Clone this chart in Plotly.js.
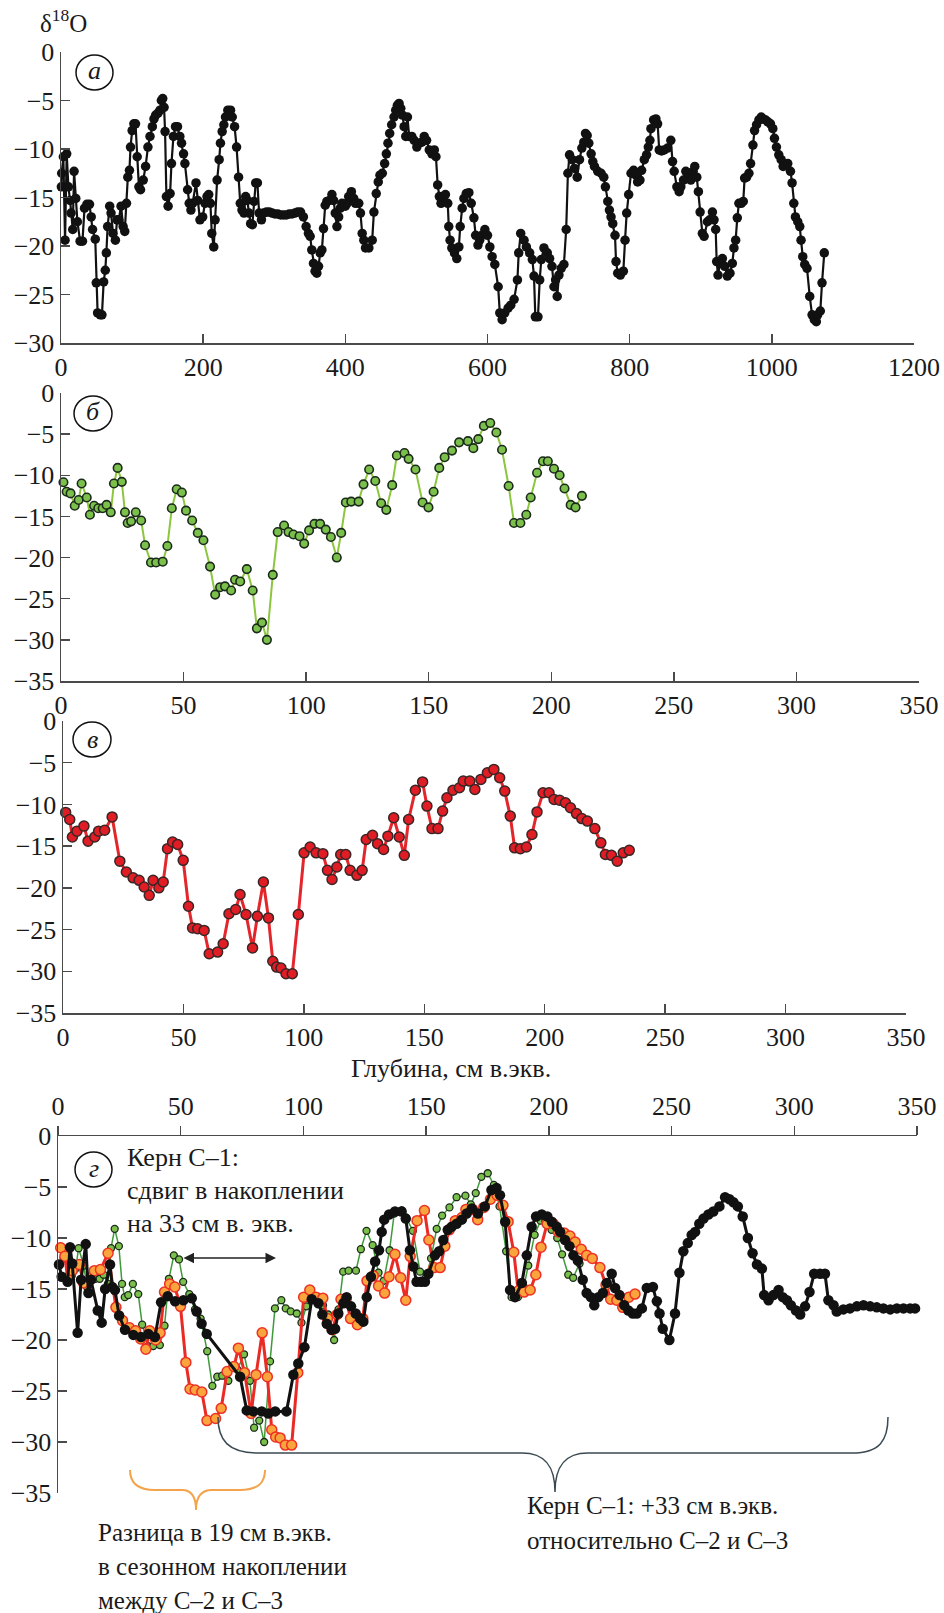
<!DOCTYPE html>
<html><head><meta charset="utf-8">
<script src="https://cdn.plot.ly/plotly-3.0.1.min.js"></script>
<style>html,body{margin:0;padding:0;background:#fff}</style>
</head><body><div id="chart" style="width:944px;height:1613px"></div>
<script>
// Panel а: C-1 core
const aX = [0.5,1,3.3,5.7,8,10.4,12.8,14.2,16.5,18.4,
20.8,23.1,26.9,30.2,33.1,36.4,40.1,42.5,44.4,48.2,
49.6,51.5,55.3,57.6,60,62.3,63.8,65.6,68.5,70.4,
73.2,76.5,78.9,81.2,84.5,87.4,89.7,92.1,94,96.3,
97.8,100.1,102.5,104.8,107.2,109.6,111.9,115.7,119,122.3,
125.2,128.5,130.8,133.2,136.5,139.3,141.2,143.1,145,146.4,
148.3,150.7,153.5,155.4,158.2,161.1,163.9,167.2,169.6,172.4,
174.3,178.1,180.4,182.8,185.1,189.9,192.2,195.5,199.3,202.6,
205.4,207.8,210.2,212.1,214.9,216.8,219.6,222.5,224.3,226.7,
229.1,231.4,234.7,238.5,240.9,244.2,247,249.8,252.2,254.6,
257.4,259.8,262.1,264.5,266.8,269.2,271.6,273.9,276.3,278.7,
282,285,289,293,297,301,305,309,313,317,
321,325,329,333,337,341,
344.8,348.1,350.5,352.8,355.2,357.5,359.9,362.3,364.6,367,
369.3,371.7,374,377.8,381.1,383.5,385.8,388.2,390.6,392.9,
395.3,400,402.4,404.7,408.5,411.8,414.2,418.9,421.3,423.7,
426,428.4,433.1,437.8,440.2,443.5,446.3,448.7,452,455.3,
457.7,460,462.4,465.2,468.5,470.9,473.2,475.6,478,480.3,
482.7,485,487.4,489.8,493.5,496.8,500.6,503.9,507.7,511,
514.3,518.1,521.8,525.2,527.5,529.9,532.3,534.6,537.9,540.8,
544.1,545.5,547.4,549.8,553.5,556.8,559.7,561.6,564.4,566.8,
570.1,573.8,577.1,580.9,583.3,586.6,589,592,596.3,600,
603.3,606.5,610.3,615,617.3,620.6,624.3,629,632.7,637.4,
642.1,643.9,646.7,651.4,654.7,659.3,663.1,665.4,667.3,671,
673.4,675.7,679.4,684.1,687.4,690.7,693.5,695.8,698.1,700.5,
703.7,707.5,710.7,713.1,715.4,719.2,722.4,726.2,729.4,732.7,
735.5,737.9,740.2,742.5,745.8,748.1,750.5,755.1,759.8,763.6,
765.9,769.2,771.5,773.8,776.2,779.4,780.8,783.2,786.9,791.1,
793.5,795.8,798.6,801.9,805.6,808.9,811.2,814.5,816.8,820.6,
823.8,826.2,828.5,829.9,833.7,836.9,839.3,841.6,844.9,848.6,
853.3,857.9,860.3,862.6,866.4,869.6,872,875.7,879,882.7,
886,889.3,891.6,894.4,896.7,899.1,902.3,904.7,909.4,912.6,
916.4,918.7,921,922.4,924.3,927.1,930.4,933.7,937.4,941.1,
944.4,946.7,949.1,951.4,953.7,957,959.8,961.7,964.5,967.8,
970.1,973.4,975.7,978.5,981.8,985.1,987.9,991.1,994.4,998.1,
1001.4,1003.7,1006.5,1009.8,1013.1,1015.9,1019.2,1022.4,1026.2,1028.5,
1030.9,1033.2,1036.5,1039.3,1041.1,1043.5,1046.3,1049.5,1053.3,1056.6,
1059.8,1062.6,1064.5,1068.2,1070.6,1073.8];
const aY = [-13.9,-12.5,-10.8,-19.4,-10.5,-13.9,-15.3,-16.6,-18.3,-12.3,
-15.1,-17.5,-19.5,-19.5,-16.1,-15.7,-15.7,-17.0,-18.3,-19.3,
-23.8,-26.9,-27.1,-27.1,-23.7,-22.5,-20.7,-18.0,-15.9,-16.6,
-18.7,-19.4,-17.3,-17.3,-15.9,-18.0,-18.5,-15.6,-12.9,-12.2,
-9.8,-8.1,-7.4,-7.4,-10.8,-13.9,-14.2,-13.2,-11.8,-9.8,
-8.7,-7.7,-6.9,-6.5,-6.3,-6.0,-5.0,-4.8,-5.7,-8.2,
-14.9,-15.9,-14.6,-11.5,-8.7,-7.7,-7.7,-8.7,-9.4,-10.5,
-11.5,-14.2,-15.6,-16.3,-15.6,-13.5,-15.3,-17.3,-17.0,-15.6,
-14.9,-14.7,-15.6,-18.7,-20.1,-17.3,-13.2,-11.1,-9.4,-8.2,
-7.5,-6.7,-6.0,-6.0,-6.7,-7.7,-9.8,-12.9,-15.6,-16.3,
-16.6,-14.9,-15.3,-16.6,-17.7,-17.8,-15.4,-13.5,-13.5,-16.6,
-17.3,-16.6,-16.5,-16.5,-16.6,-16.7,-16.7,-16.8,-16.8,-16.8,
-16.7,-16.7,-16.6,-16.5,-16.5,-17.0,
-18.0,-18.7,-19.0,-20.4,-21.8,-22.6,-22.8,-22.1,-20.7,-20.4,
-18.2,-15.8,-15.4,-15.3,-14.7,-15.3,-16.6,-18.0,-17.0,-16.1,
-15.6,-15.9,-15.6,-14.9,-14.4,-15.1,-15.6,-15.6,-16.6,-18.7,
-19.4,-20.2,-20.2,-19.4,-16.5,-14.6,-13.4,-12.7,-12.5,-11.5,
-10.5,-9.4,-8.4,-7.5,-6.7,-6.0,-5.5,-5.3,-5.8,-6.5,
-7.7,-8.7,-6.7,-8.7,-8.7,-9.1,-9.8,-9.4,-9.3,-8.7,
-9.1,-10.1,-10.5,-10.1,-10.8,-13.7,-14.9,-15.6,-14.9,-14.7,
-15.6,-18.0,-19.4,-20.2,-20.7,-21.3,-20.1,-18.0,-16.1,-15.1,
-14.6,-14.5,-15.6,-17.1,-18.9,-19.9,-19.4,-18.9,-18.3,-18.9,
-20.1,-21.1,-21.9,-24.2,-26.9,-27.6,-26.9,-26.4,-26.1,-25.5,
-23.5,-20.7,-18.7,-19.4,-20.1,-20.7,-21.4,-23.1,-27.3,-27.3,
-23.5,-21.4,-20.2,-20.7,-21.3,-22.1,-24.2,-23.5,-25.2,-23.0,
-22.3,-21.9,-18.3,-12.5,-10.6,-11.1,-12.0,-12.9,-11.1,-9.9,
-9.3,-8.4,-8.6,-9.4,-10.5,-11.3,-11.8,-12.3,-12.5,-12.9,
-13.9,-15.4,-16.3,-17.0,-17.7,-18.9,-21.6,-22.8,-23.0,-22.6,
-19.4,-16.6,-14.7,-12.5,-12.2,-12.7,-13.4,-13.2,-12.2,-11.1,
-10.6,-9.8,-9.1,-7.9,-7.0,-6.9,-7.4,-10.1,-10.2,-10.1,
-9.9,-9.1,-11.3,-12.3,-13.9,-14.4,-13.9,-13.2,-12.3,-12.5,
-13.2,-12.3,-11.8,-12.9,-14.4,-16.5,-18.7,-19.0,-17.5,-17.3,
-16.5,-17.3,-18.3,-21.6,-23.0,-21.8,-21.3,-22.1,-23.1,-22.8,
-21.8,-20.2,-19.4,-17.1,-15.6,-15.6,-15.4,-13.0,-12.9,-12.5,
-11.5,-9.6,-8.1,-7.5,-7.0,-6.7,-6.9,-7.0,-7.2,-7.4,
-7.9,-8.9,-9.8,-10.6,-11.1,-11.8,-11.7,-11.5,-12.3,-13.5,
-15.6,-17.0,-17.5,-18.0,-19.4,-21.1,-21.9,-22.3,-25.2,-27.1,
-27.6,-27.8,-27.1,-26.7,-23.8,-20.7];

// Panel б: C-2 core
const bX = [1,2.3,3.9,5.6,7.2,8.4,10.5,11.8,13.5,15.2,
17,18.6,20.3,21.6,23.1,24.8,26.1,27.2,28.6,30.5,
32.7,34.3,36.7,38.8,41.5,43.4,45.2,47.2,49.3,51,
53.5,55.8,58.1,60.8,62.9,64.9,66.9,69.4,71,73.1,
75.8,78.2,79.9,82,84,86.4,88.4,91,92.8,94.8,
97.3,99.2,101.2,103.4,105.7,108,110.1,112.5,114.3,116.2,
118.4,121.4,123.4,125.7,128.2,130.6,132.7,135.1,137,140.1,
141.8,144.6,147.5,149.9,152,154.3,156.5,159.5,162.4,166,
168.2,170.2,172.5,175.1,177.6,179.9,182.6,184.8,187.4,189.8,
191.6,194.2,196.6,198.6,201.1,203.4,205.4,207.9,209.9,212.5];
const bY = [-10.85,-12.0,-12.2,-13.7,-13.0,-11.0,-12.7,-14.8,-13.7,-14.0,
-14.0,-13.6,-14.5,-11.0,-9.1,-10.8,-14.5,-15.8,-15.6,-14.5,
-15.5,-18.5,-20.6,-20.6,-20.5,-18.6,-14.0,-11.7,-12.1,-14.3,
-15.5,-17.0,-17.9,-21.1,-24.5,-23.6,-23.5,-24.0,-22.7,-22.9,
-21.4,-24.0,-28.6,-27.9,-30.0,-22.1,-16.9,-16.1,-16.9,-17.2,
-17.4,-18.3,-16.7,-15.9,-15.9,-16.6,-17.5,-20.0,-17.0,-13.3,
-13.2,-13.2,-11.1,-9.3,-10.7,-13.4,-14.2,-11.2,-7.6,-7.3,
-8.0,-9.3,-13.3,-13.9,-12.0,-9.1,-7.8,-7.0,-6.0,-5.85,
-6.7,-5.6,-4.0,-3.65,-4.8,-6.9,-11.3,-15.8,-15.8,-14.8,
-12.7,-9.7,-8.3,-8.3,-9.2,-10.0,-11.6,-13.6,-13.9,-12.5];

// Panel в: C-3 core
const vX = [1.1,2.8,3.9,5.8,8.7,10.4,13.2,14.8,17.3,20.4,
23.6,26.3,29.1,31.6,33.7,35.8,37.4,39.8,41.6,43.4,
45.5,47.6,49.9,52.1,53.8,55.9,58.6,60.7,64.2,66.5,
68.9,71.7,73.5,76,78.7,80.7,83.2,85.3,87.1,88.7,
90.5,92.6,95.2,97.7,100.1,102.6,105.1,107.9,109.8,111.7,
113.7,115.3,117.4,119.2,122,124.2,125.9,128.5,130.6,133.1,
134.9,137.3,139.6,141.7,143.5,146.3,149.3,151.1,153.2,155.7,
157.6,159.4,161.9,164.6,166.2,168.9,171,173.5,176.2,178.9,
181.3,183.4,185.7,187.5,189.9,192.4,194.7,196.8,199.3,201.8,
203.9,206.2,208.6,210.7,213.2,215.4,217.7,220.8,223.3,225.2,
227.7,230.1,232.6,235.1];
const vY = [-10.96,-11.8,-13.9,-13.2,-12.6,-14.4,-13.9,-13.2,-13.1,-11.5,
-16.8,-18.1,-18.8,-19.1,-19.9,-20.9,-19.1,-20.0,-19.3,-15.3,
-14.5,-14.8,-16.7,-22.2,-24.8,-24.9,-25.1,-27.9,-27.7,-26.7,
-23.1,-22.6,-20.8,-23.2,-27.2,-23.4,-19.3,-23.6,-28.8,-29.5,
-29.6,-30.3,-30.3,-23.2,-15.8,-15.1,-15.8,-15.9,-17.9,-19.0,
-17.5,-16.0,-16.0,-17.9,-18.5,-17.9,-14.2,-13.7,-14.7,-15.4,
-13.8,-11.6,-13.9,-16.1,-11.8,-8.3,-7.3,-10.2,-12.9,-12.9,
-10.8,-9.2,-8.3,-8.0,-7.2,-7.2,-8.2,-7.0,-6.2,-5.8,
-6.8,-8.4,-11.4,-15.2,-15.3,-15.1,-13.6,-10.9,-8.6,-8.6,
-9.4,-9.5,-9.8,-10.4,-11.1,-11.7,-12.0,-12.9,-14.6,-16.0,
-16.1,-16.8,-15.8,-15.5];

// Panel г: C-1 core after alignment (black)
const gX = [0.4,1.5,3.9,4.9,5.8,8.0,9.4,11.3,12.4,13.4,
16.2,17.8,19.2,21.2,22.1,23.2,24.9,27.3,30.7,33.8,
36.8,39.5,42.0,44.7,47.7,51.1,54.5,56.5,58.5,60.6,
74.2,76.9,79.6,83.0,85.7,88.5,93.1,95.9,97.9,100.4,
103.4,106.1,107.7,109.5,111.5,112.9,114.2,116.3,117.6,
119.4,121.3,123.1,124.4,125.8,127.5,129.2,130.8,131.9,132.9,
134.9,137.3,140.0,141.7,143.4,144.8,146.1,147.9,149.5,150.9,
153.6,155.3,157.0,158.8,160.4,162.4,164.5,166.5,168.6,171.1,
173.9,176.6,178.7,180.1,182.2,184.2,186.2,189.0,191.0,193.0,
194.8,197.1,199.4,201.2,203.2,204.6,206.6,208.4,210.0,211.8,
213.8,215.4,217.1,218.5,220.2,222.0,223.6,225.6,227.0,228.8,
230.7,232.4,234.2,235.8,237.9,239.9,242.4,244.0,245.1,246.4,
249.1,251.4,253.2,254.8,256.6,258.2,259.6,261.3,263.0,265.0,
267.0,269.5,271.8,273.6,275.2,277.0,279.0,281.1,283.0,284.8,
286.8,287.7,289.5,291.5,293.6,295.3,297.0,298.6,300.7,302.4,
304.4,306.2,308.1,310.5,312.5,313.9,316.0,317.3,320.0,322.7,
325.5,328.2,330.9,333.6,336.3,339.1,341.8,344.5,347.2,349.2];
const gY = [-12.6,-13.8,-14.3,-10.9,-12.5,-19.3,-14.1,-10.6,-15.4,-14.1,
-17.1,-18.3,-15.0,-12.6,-14.8,-15.1,-17.6,-19.0,-19.5,-19.7,
-19.4,-19.7,-16.3,-15.7,-16.2,-16.1,-15.9,-17.2,-18.4,-19.4,
-23.6,-26.9,-27.0,-27.0,-27.2,-27.0,-27.0,-23.4,-22.3,-20.7,
-16.0,-16.4,-17.5,-18.4,-19.0,-18.9,-17.4,-16.4,-15.8,
-16.7,-17.4,-17.9,-18.2,-15.8,-13.8,-12.3,-11.2,-9.4,-8.2,
-7.7,-7.4,-7.4,-8.1,-11.2,-12.8,-14.3,-14.3,-14.3,-13.5,
-11.7,-11.3,-10.2,-9.2,-8.9,-8.6,-8.2,-7.6,-7.1,-7.6,
-6.9,-5.3,-5.1,-5.8,-8.4,-15.1,-15.8,-14.4,-11.7,-8.9,
-7.9,-7.7,-7.9,-8.4,-8.9,-9.4,-10.2,-10.8,-11.7,-12.2,
-14.1,-15.4,-15.8,-16.6,-15.8,-15.4,-14.4,-13.5,-14.9,-15.6,
-16.6,-17.1,-17.4,-17.4,-16.9,-14.9,-14.8,-16.2,-17.4,-18.9,
-20.0,-17.4,-13.4,-11.3,-10.5,-9.7,-9.4,-8.6,-8.1,-7.7,
-7.4,-6.9,-6.0,-6.2,-6.5,-6.9,-7.9,-10.0,-11.5,-12.6,
-13.0,-15.6,-16.1,-15.6,-15.1,-15.8,-16.1,-16.6,-17.1,-17.5,
-16.7,-15.3,-13.5,-13.5,-13.5,-16.1,-16.6,-17.2,-17.0,-16.9,
-16.7,-16.6,-16.7,-16.8,-16.9,-17.0,-16.9,-16.9,-16.9,-16.9];

const ticksA = [0,200,400,600,800,1000,1200];
const ticksB = [0,50,100,150,200,250,300,350];
const yTicks30 = [0,-5,-10,-15,-20,-25,-30];
const yTicks35 = [0,-5,-10,-15,-20,-25,-30,-35];

const W = 944, H = 1613;
const PX = v => v / W, PY = v => 1 - v / H;
const FONT = "'Liberation Serif', 'Times New Roman', serif";
const AX = '#4a4a4a';

function xax(d0, d1, range, ticks, anchor, extra) {
  return Object.assign({domain:[PX(d0),PX(d1)], range:range, tickvals:ticks, anchor:anchor,
    showline:true, linecolor:AX, linewidth:1.5, ticks:'inside', ticklen:9, tickwidth:1.5, tickcolor:AX,
    showgrid:false, zeroline:false, tickfont:{family:FONT, size:26, color:'#1a1a1a'}, fixedrange:true}, extra||{});
}
function yax(top, bot, range, ticks, anchor) {
  return {domain:[PY(bot),PY(top)], range:range, tickvals:ticks, anchor:anchor,
    showline:true, linecolor:AX, linewidth:1.5, ticks:'inside', ticklen:9, tickwidth:1.5, tickcolor:AX,
    showgrid:false, zeroline:false, tickfont:{family:FONT, size:26, color:'#1a1a1a'}, fixedrange:true};
}

const traces = [
  {x:aX, y:aY, xaxis:'x', yaxis:'y', mode:'lines+markers', cliponaxis:false,
   line:{color:'#111', width:2.2}, marker:{size:9.5, color:'#111'}},
  {x:bX, y:bY, xaxis:'x2', yaxis:'y2', mode:'lines+markers', cliponaxis:false,
   line:{color:'#8cc63f', width:2}, marker:{size:8.5, color:'#7cc04c', line:{color:'#1b2a1b', width:1.6}}},
  {x:vX, y:vY, xaxis:'x3', yaxis:'y3', mode:'lines+markers', cliponaxis:false,
   line:{color:'#e3262b', width:3}, marker:{size:10, color:'#e01c24', line:{color:'#3a2626', width:1.5}}},
  {x:bX, y:bY, xaxis:'x4', yaxis:'y4', mode:'lines+markers', cliponaxis:false,
   line:{color:'#3f9a3a', width:1.5}, marker:{size:7, color:'#7cc04c', line:{color:'#1b2a1b', width:1.3}}},
  {x:vX, y:vY, xaxis:'x4', yaxis:'y4', mode:'lines+markers', cliponaxis:false,
   line:{color:'#ea2a24', width:3}, marker:{size:10, color:'#f9a43c', line:{color:'#ee3124', width:1.5}}},
  {x:gX, y:gY, xaxis:'x4', yaxis:'y4', mode:'lines+markers', cliponaxis:false,
   line:{color:'#111', width:3}, marker:{size:10.5, color:'#111'}}
];

function pathOf(segs) {
  return segs.map(s => {
    const cmd = s[0], n = s.slice(1), out = [];
    for (let i = 0; i < n.length; i += 2) out.push(PX(n[i]).toFixed(5) + ',' + PY(n[i+1]).toFixed(5));
    return cmd + out.join(' ');
  }).join(' ');
}
function circ(x0, y0, x1, y1) {
  return {type:'circle', xref:'paper', yref:'paper', x0:PX(x0), x1:PX(x1), y0:PY(y1), y1:PY(y0),
          line:{color:'#111', width:1.5}};
}
const shapes = [
  circ(76,55,113,90), circ(74,396,112,431), circ(73,722,111,757), circ(75,1152,112,1187),
  {type:'path', xref:'paper', yref:'paper', line:{color:'#3b4a52', width:1.5},
   path: pathOf([['M',218,1417],['C',218,1440,228,1453,258,1453],['L',522,1453],
                 ['C',545,1453,555,1466,555,1492],['C',555,1466,565,1453,588,1453],['L',852,1453],
                 ['C',880,1453,888,1440,888,1417]])},
  {type:'path', xref:'paper', yref:'paper', line:{color:'#f5a34a', width:2},
   path: pathOf([['M',130,1470],['C',130,1483,138,1490,155,1490],['L',182,1490],
                 ['C',192,1490,196,1498,196,1510],['C',196,1498,200,1490,212,1490],['L',240,1490],
                 ['C',258,1490,265,1483,265,1470]])}
];

function txt(t, x, y, anchor, size, extra) {
  return Object.assign({text:t, xref:'paper', yref:'paper', x:PX(x), y:PY(y), xanchor:anchor||'left',
    yanchor:'middle', showarrow:false, font:{family:FONT, size:size||26, color:'#1a1a1a'}}, extra||{});
}
const annotations = [
  txt('δ<sup>18</sup>O', 38, 21, 'left', 25),
  txt('<i>а</i>', 94.5, 71, 'center', 26),
  txt('<i>б</i>', 93, 412, 'center', 26),
  txt('<i>в</i>', 92, 739, 'center', 26),
  txt('<i>г</i>', 93.5, 1168, 'center', 26),
  txt('Глубина, см в.экв.', 451, 1068, 'center', 26),
  txt('Керн С–1:', 125, 1157, 'left', 26),
  txt('сдвиг в накоплении', 125, 1190, 'left', 26),
  txt('на 33 см в. экв.', 125, 1223, 'left', 26),
  txt('Разница в 19 см в.экв.', 96, 1532, 'left', 25),
  txt('в сезонном накоплении', 96, 1566, 'left', 25),
  txt('между С–2 и С–3', 96, 1600, 'left', 25),
  txt('Керн С–1: +33 см в.экв.', 525, 1505, 'left', 25),
  txt('относительно С–2 и С–3', 525, 1540, 'left', 25),
  {text:'', xref:'paper', yref:'paper', x:PX(276), y:PY(1258), ax:-94, ay:0,
   showarrow:true, arrowhead:2, startarrowhead:2, arrowside:'end+start', arrowsize:1.4, startarrowsize:1.4,
   arrowwidth:1.5, arrowcolor:'#222', standoff:0, startstandoff:0}
];

const layout = {
  width:W, height:H, margin:{l:0, r:0, t:0, b:0}, paper_bgcolor:'#fff', plot_bgcolor:'rgba(0,0,0,0)',
  showlegend:false, font:{family:FONT, color:'#1a1a1a'},
  xaxis:  xax(61, 914, [0,1200], ticksA, 'y'),
  yaxis:  yax(52, 343, [-30,0], yTicks30, 'x'),
  xaxis2: xax(61, 919, [0,350], ticksB, 'y2'),
  yaxis2: yax(393, 681, [-35,0], yTicks35, 'x2'),
  xaxis3: xax(63, 906, [0,350], ticksB, 'y3'),
  yaxis3: yax(721, 1013, [-35,0], yTicks35, 'x3'),
  xaxis4: xax(58, 917, [0,350], ticksB, 'y4', {side:'top', ticks:'outside'}),
  yaxis4: yax(1136, 1493, [-35,0], yTicks35, 'x4'),
  shapes:shapes, annotations:annotations
};
Plotly.newPlot('chart', traces, layout, {displayModeBar:false, staticPlot:true});
</script></body></html>
